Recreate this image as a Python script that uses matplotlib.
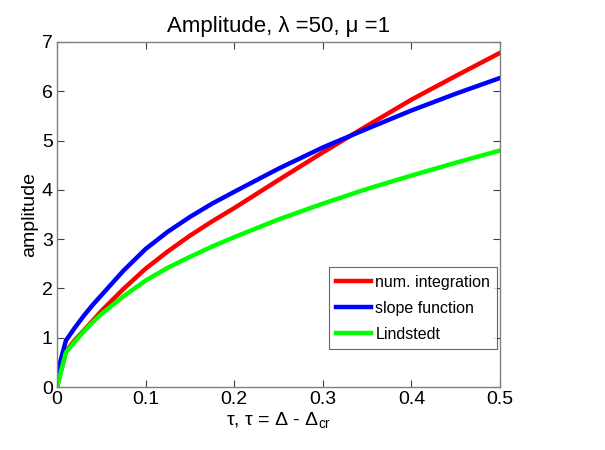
import matplotlib
matplotlib.use("Agg")
import matplotlib.pyplot as plt

plt.rcParams['font.family'] = ['Liberation Sans', 'DejaVu Sans']
plt.rcParams['mathtext.fontset'] = 'custom'
plt.rcParams['mathtext.rm'] = 'Liberation Sans'
plt.rcParams['mathtext.it'] = 'Liberation Sans'

tau = [0, 0.01, 0.02, 0.03, 0.04, 0.05, 0.075, 0.1, 0.125, 0.15, 0.175, 0.2,
       0.25, 0.3, 0.35, 0.4, 0.45, 0.5]
num_integration = [0, 0.72, 0.95, 1.14, 1.34, 1.54, 1.99, 2.40, 2.75, 3.07, 3.36, 3.63,
                   4.20, 4.76, 5.30, 5.83, 6.31, 6.78]
slope_function = [0.26, 0.94, 1.20, 1.44, 1.66, 1.86, 2.36, 2.80, 3.15, 3.45, 3.72, 3.96,
                  4.43, 4.86, 5.24, 5.61, 5.95, 6.27]
lindstedt = [0, 0.70, 0.92, 1.12, 1.31, 1.48, 1.84, 2.16, 2.42, 2.64, 2.85, 3.04,
             3.40, 3.72, 4.02, 4.29, 4.55, 4.80]

labels = ['num. integration', 'slope function', 'Lindstedt']
xticks = [0, 0.1, 0.2, 0.3, 0.4, 0.5]
xticklabels = ['0', '0.1', '0.2', '0.3', '0.4', '0.5']
yticks = [0, 1, 2, 3, 4, 5, 6, 7]

fig = plt.figure(figsize=(6.05, 4.5), dpi=100)
ax = fig.add_axes([57/605, 1 - 387/450, 443/605, 345/450])

lw = 3.2
ax.plot(tau, num_integration, color=(1, 0, 0), lw=lw, label=labels[0])
ax.plot(tau, slope_function, color=(0, 0, 1), lw=lw, label=labels[1])
ax.plot(tau, lindstedt, color=(0, 1, 0), lw=lw, label=labels[2])

ax.set_xlim(0, 0.5)
ax.set_ylim(0, 7)
ax.set_xticks(xticks)
ax.set_xticklabels(xticklabels)
ax.set_yticks(yticks)

for s in ax.spines.values():
    s.set_color('#808080')
    s.set_linewidth(1.0)
ax.tick_params(direction='in', top=True, right=True, length=5, width=0.8,
               color='#404040', labelsize=14, pad=3)

ax.set_title('Amplitude, λ =50, μ =1', fontsize=16, pad=7)
ax.set_ylabel('amplitude', fontsize=14, labelpad=3)
ax.set_xlabel(r'τ, τ = Δ - Δ$_{\mathregular{cr}}$', fontsize=14, labelpad=1)

leg = ax.legend(loc='lower right', bbox_to_anchor=(0.994, 0.11), fontsize=11.5,
                frameon=True, fancybox=False, edgecolor='#404040',
                handlelength=2.2, handletextpad=0.25, borderpad=0.45,
                labelspacing=0.7, borderaxespad=0)
leg.get_frame().set_linewidth(0.8)

fig.savefig('out.png', dpi=100)
